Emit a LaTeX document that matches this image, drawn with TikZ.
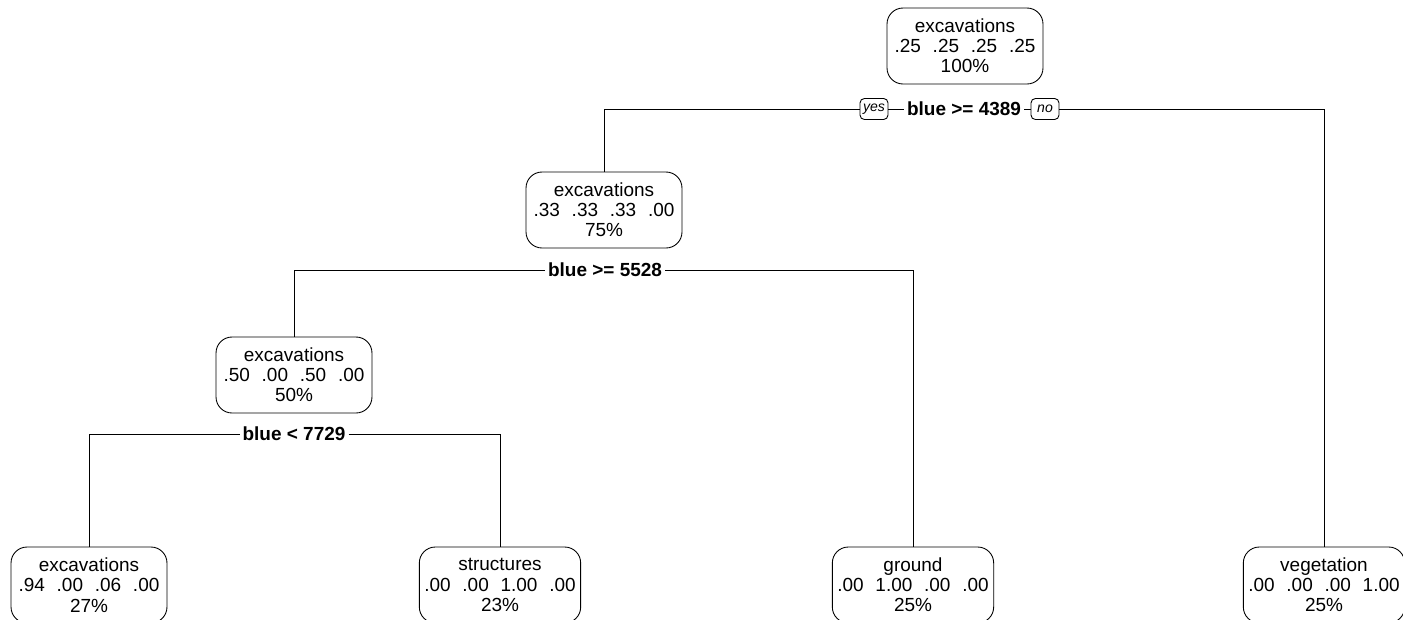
\documentclass[tikz,border=0pt]{standalone}
\usepackage{fontspec}
\setmainfont{Liberation Sans}
\def\gap{\hspace{0.62em}}
\tikzset{
  treenode/.style={draw, rounded corners=0.32cm, align=center, minimum width=3.12cm,
    minimum height=1.52cm, inner xsep=0.1cm, inner ysep=2pt,
    font=\fontsize{10.8}{11.5}\selectfont},
  splitlabel/.style={font=\fontsize{10.8}{11.5}\selectfont\bfseries, inner xsep=1.5pt, inner ysep=1pt},
  answer/.style={draw, rounded corners=2.5pt, font=\fontsize{8}{9}\selectfont\itshape,
    minimum width=0.56cm, minimum height=0.42cm, inner sep=1pt},
}

\begin{document}
\begin{tikzpicture}[x=0.02cm, y=-0.02cm, line width=0.5pt]
    \clip (0,0) rectangle (1403,619);
    % nodes
    \node[treenode] (root) at (965,46) {excavations\\.25\gap.25\gap.25\gap.25\\100\%};
    \node[treenode] (exc2) at (604,210) {excavations\\.33\gap.33\gap.33\gap.00\\75\%};
    \node[treenode] (exc3) at (294,375) {excavations\\.50\gap.00\gap.50\gap.00\\50\%};
    \node[treenode] (exc4) at (89,585) {excavations\\.94\gap.00\gap.06\gap.00\\27\%};
    \node[treenode] (struct) at (500,585) {structures\\.00\gap.00\gap1.00\gap.00\\23\%};
    \node[treenode] (ground) at (913,585) {ground\\.00\gap1.00\gap.00\gap.00\\25\%};
    \node[treenode] (veg) at (1324,585) {vegetation\\.00\gap.00\gap.00\gap1.00\\25\%};
    % splits
    \node[splitlabel] (split1) at (964,109) {blue >= 4389};
    \node[answer] (yes) at (874,109) {yes};
    \node[answer] (no) at (1045,109) {no};
    \node[splitlabel] (split2) at (605,270) {blue >= 5528};
    \node[splitlabel] (split3) at (294,434) {blue < 7729};
    % branches
    \draw (yes.west) -| (exc2.north);
    \draw (yes.east) -- (split1.west);
    \draw (split1.east) -- (no.west);
    \draw (no.east) -| (veg.north);
    \draw (split2.west) -| (exc3.north);
    \draw (split2.east) -| (ground.north);
    \draw (split3.west) -| (exc4.north);
    \draw (split3.east) -| (struct.north);
\end{tikzpicture}
\end{document}
